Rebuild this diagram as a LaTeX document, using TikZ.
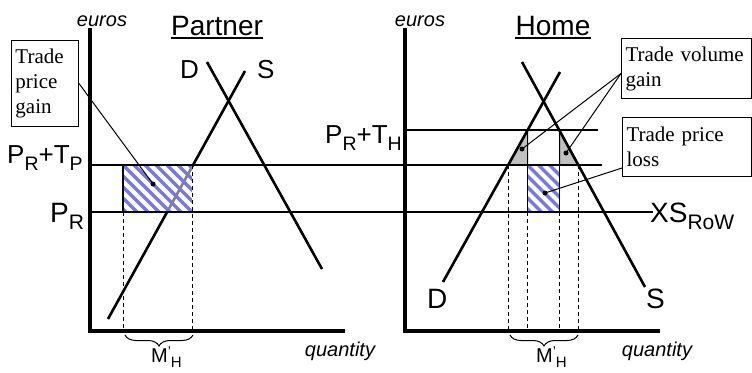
\documentclass[tikz,border=0pt]{standalone}
\usepackage{fontspec}
\setmainfont{Liberation Serif}
\setsansfont{Liberation Sans}
\usetikzlibrary{decorations.pathreplacing}
\newcommand\lsub[1]{\raisebox{-0.28em}{\scalebox{0.75}{#1}}}
\newcommand\mytick{\raisebox{0.3em}{\scalebox{0.7}{'}}}
\definecolor{hatchblue}{RGB}{120,120,225}
\definecolor{tri}{RGB}{192,192,192}
\tikzset{
 axis/.style={line width=4pt},
 curve/.style={line width=2.6pt},
 pline/.style={line width=2pt},
 conn/.style={line width=1pt},
 uline/.style={line width=1.5pt},
 dashv/.style={line width=1pt, dash pattern=on 4pt off 3pt},
 solidv/.style={line width=1.4pt},
 box/.style={draw, line width=1pt, font=\fontsize{21}{25}\selectfont, align=left, inner xsep=4pt, inner ysep=0pt, anchor=north west},
 lbl/.style={font=\sffamily\fontsize{26}{30}\selectfont, inner sep=0pt, anchor=base west},
 big/.style={font=\sffamily\fontsize{28}{32}\selectfont, inner sep=0pt, anchor=base west},
 ital/.style={font=\sffamily\itshape\fontsize{20}{24}\selectfont, inner sep=0pt, anchor=base},
 title/.style={font=\sffamily\fontsize{28}{32}\selectfont, inner sep=0pt, anchor=base},
 mh/.style={font=\sffamily\fontsize{20}{23}\selectfont, inner sep=0pt, anchor=base west},
 brc/.style={decorate, decoration={brace, amplitude=11pt}, line width=1pt},
 dot/.style={circle, fill, inner sep=0pt, minimum size=5pt},
 stripe/.style={line width=3.5pt, hatchblue},
}
\begin{document}
\begin{tikzpicture}[x=1pt,y=-1pt]
\useasboundingbox (0,0) rectangle (752,372);

% ---------- Partner ----------
\coordinate (pS1) at (108,319); \coordinate (pS2) at (245,71);
\coordinate (pD1) at (207,62);  \coordinate (pD2) at (322,269);
\draw[curve] (pS1) -- (pS2);
\draw[curve] (pD1) -- (pD2);
% hatched rectangle
\begin{scope}
\clip (123,165) rectangle (192,212);
\fill[white, opacity=0.5] (123,165) rectangle (192,212);
\foreach \i in {-60,-49,...,80} \draw[stripe] (123+\i,160) -- ++(60,60);
\end{scope}
\draw[solidv] (123,165) -- (123,212);
\draw[dashv] (123,212) -- (123,331);
\draw[dashv] (192,165) -- (192,331);

% ---------- Home ----------
\coordinate (hD1) at (443,282); \coordinate (hD2) at (560,72);
\coordinate (hS1) at (522,62);  \coordinate (hS2) at (645,287);
\filldraw[fill=tri, draw=black, line width=1pt] (527.5,130) -- (508.2,165) -- (527.5,165) -- cycle;
\filldraw[fill=tri, draw=black, line width=1pt] (559.5,130) -- (559.5,165) -- (578.3,165) -- cycle;
\begin{scope}
\clip (527.5,165) rectangle (559.5,212);
\foreach \i in {-60,-49,...,50} \draw[stripe] (527.5+\i,160) -- ++(60,60);
\end{scope}
\draw[curve] (hD1) -- (hD2);
\draw[curve] (hS1) -- (hS2);
\draw[solidv] (527.5,130) -- (527.5,212);
\draw[solidv] (559.5,130) -- (559.5,212);
\draw[dashv] (508.5,165) -- (508.5,331);
\draw[dashv] (527.5,212) -- (527.5,331);
\draw[dashv] (559.5,212) -- (559.5,331);
\draw[dashv] (578.3,165) -- (578.3,331);

% price lines
\draw[pline] (90,165) -- (602,165);
\draw[pline] (90,212) -- (653,212);
\draw[pline] (405,130) -- (598,130);

% axes
\draw[axis] (90,28) -- (90,331) -- (345,331);
\draw[axis] (405,28) -- (405,331) -- (660,331);

% braces
\draw[brc] (193,335) -- (125,335);
\draw[brc] (578,335) -- (510,335);

% labels Partner
\node[ital] (eu1) at (102,26) {euros};
\node[title] (t1) at (217,35) {Partner};
\draw[uline] ([yshift=-3pt]t1.base west) -- ([yshift=-3pt]t1.base east);
\node[lbl] (lD1) at (180,78) {D};
\node[lbl] (lS1) at (257,78) {S};
\node[lbl] (lPT) at (7,163) {P\lsub{R}+T\lsub{P}};
\node[big] (lPR) at (50,222) {P\lsub{R}};
\node[ital] (q1) at (340,356) {quantity};
\node[mh] (m1) at (151,362) {M\mytick\lsub{H}};

% labels Home
\node[ital] (eu2) at (420,26) {euros};
\node[title] (t2) at (553,35) {Home};
\draw[uline] ([yshift=-3pt]t2.base west) -- ([yshift=-3pt]t2.base east);
\node[lbl] (lPTH) at (325,143) {P\lsub{R}+T\lsub{H}};
\node[big] (lXS) at (650,222) {XS\lsub{RoW}};
\node[big] (lD2) at (427,308) {D};
\node[big] (lS2) at (646,308) {S};
\node[ital] (q2) at (657,356) {quantity};
\node[mh] (m2) at (536,362) {M\mytick\lsub{H}};

% boxes
\node[box, text width=59pt, minimum height=86pt] (pgain) at (11,40) {Trade\\price\\gain};
\node[box, text width=122pt, minimum height=60pt] (tvgain) at (621,38) {Trade volume\\gain};
\node[box, text width=121pt, minimum height=59pt] (tploss) at (622,117) {Trade price\\loss};

% dots and connectors
\node[dot] (d1) at (153,184) {};
\node[dot] (d2) at (522,149) {};
\node[dot] (d3) at (566,153) {};
\node[dot] (d4) at (545,193) {};
\draw[conn] (pgain.east) -- (d1.center);
\draw[conn] ([yshift=-5pt]tvgain.west) -- (d2.center);
\draw[conn] ([yshift=-5pt]tvgain.west) -- (d3.center);
\draw[conn] ([yshift=9pt]tploss.south west) -- (d4.center);
\end{tikzpicture}
\end{document}
